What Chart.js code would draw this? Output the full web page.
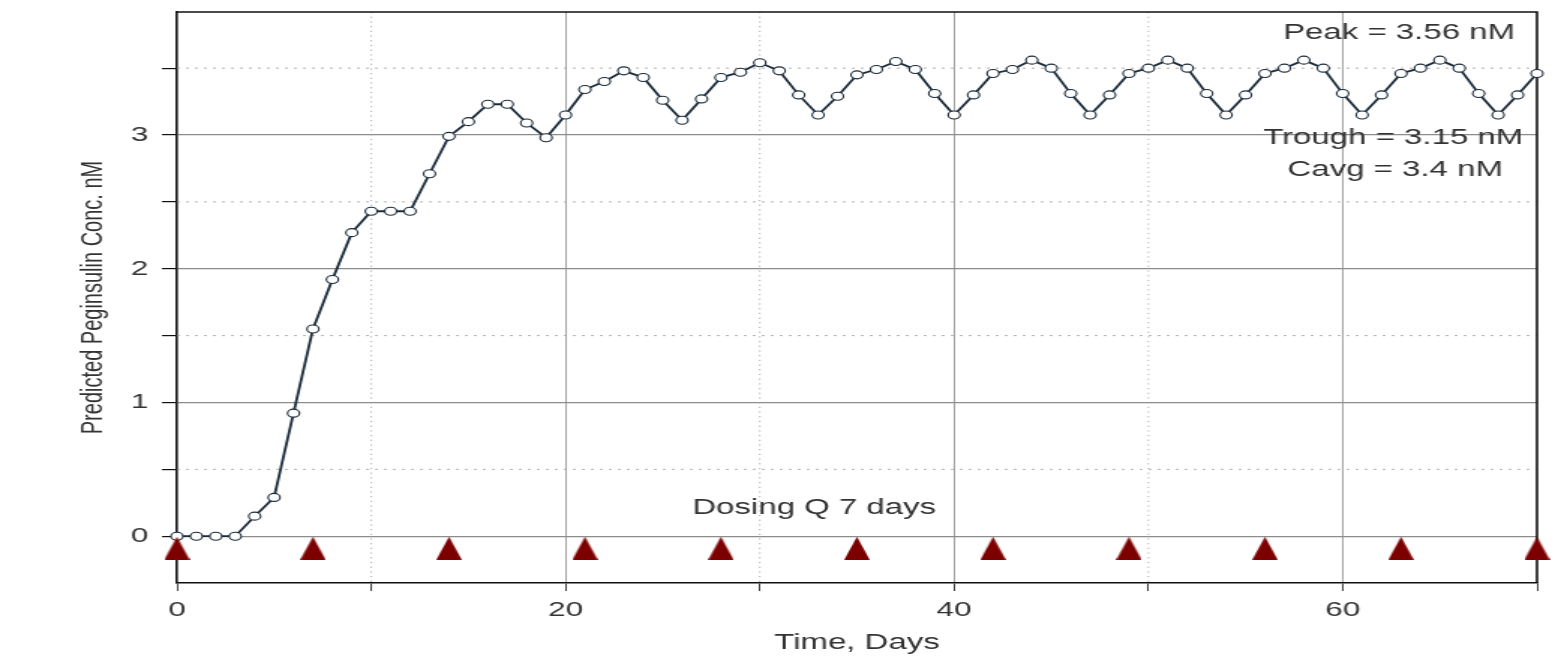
<!DOCTYPE html>
<html>
<head>
<meta charset="utf-8">
<title>Predicted Peginsulin Concentration</title>
<script src="https://cdn.jsdelivr.net/npm/chart.js@4"></script>
<style>
  html, body { margin: 0; padding: 0; background: #fff; overflow: hidden; }
  /* the source picture is stretched sideways, so draw narrow and widen it */
  #wrap { width: 1037px; height: 662px; transform: scaleX(1.4995); transform-origin: 0 0; }
</style>
</head>
<body>
<div id="wrap"><canvas id="pk-chart" width="1037" height="662"></canvas></div>
<script>
// ══════════════════════════════════════════
// DATA
// ══════════════════════════════════════════
const days = [
  0, 1, 2, 3, 4, 5, 6, 7, 8, 9, 10, 11, 12, 13, 14, 15, 16, 17, 18, 19,
  20, 21, 22, 23, 24, 25, 26, 27, 28, 29, 30, 31, 32, 33, 34, 35, 36, 37, 38, 39,
  40, 41, 42, 43, 44, 45, 46, 47, 48, 49, 50, 51, 52, 53, 54, 55, 56, 57, 58, 59,
  60, 61, 62, 63, 64, 65, 66, 67, 68, 69, 70
];
const concNM = [
  0, 0, 0, 0, 0.15, 0.29, 0.92, 1.55, 1.92, 2.27, 2.43, 2.43, 2.43, 2.71, 2.99, 3.10, 3.23, 3.23, 3.09, 2.98,
  3.15, 3.34, 3.40, 3.48, 3.43, 3.26, 3.11, 3.27, 3.43, 3.47, 3.54, 3.48, 3.30, 3.15, 3.29, 3.45, 3.49, 3.55, 3.49, 3.31,
  3.15, 3.30, 3.46, 3.49, 3.56, 3.50, 3.31, 3.15, 3.30, 3.46, 3.50, 3.56, 3.50, 3.31, 3.15, 3.30, 3.46, 3.50, 3.56, 3.50,
  3.31, 3.15, 3.30, 3.46, 3.50, 3.56, 3.50, 3.31, 3.15, 3.30, 3.46
];
const doseDays = [0, 7, 14, 21, 28, 35, 42, 49, 56, 63, 70];
const doseLevel = -0.09;

const xTicks = [0, 10, 20, 30, 40, 50, 60, 70];
const yTicks = [0, 0.5, 1, 1.5, 2, 2.5, 3, 3.5];
const xMinorGrid = [10, 30, 50];
const yMinorGrid = [0.5, 1.5, 2.5, 3.5];

const notes = [
  { text: 'Peak = 3.56 nM',    x: 62.9, y: 3.76 },
  { text: 'Trough = 3.15 nM',  x: 62.6, y: 2.98 },
  { text: 'Cavg = 3.4 nM',     x: 62.7, y: 2.74 },
  { text: 'Dosing Q 7 days',   x: 32.8, y: 0.21 },
];

// ══════════════════════════════════════════
// CHART
// ══════════════════════════════════════════
Chart.defaults.font.family = "'Liberation Sans', Arial, sans-serif";
Chart.defaults.color = '#333';

// dose marker: a plain dark red triangle, kept narrow because the page is widened
function makeDoseMarker() {
  const c = document.createElement('canvas');
  c.width = 17; c.height = 23;
  const g = c.getContext('2d');
  g.fillStyle = '#7d0000';
  g.beginPath();
  g.moveTo(0, 23); g.lineTo(8.5, 0); g.lineTo(17, 23);
  g.closePath();
  g.fill();
  return c;
}

// ── dotted minor grid + closed frame ──
const frameAndMinorGrid = {
  id: 'frameAndMinorGrid',
  beforeDatasetsDraw(chart) {
    const { ctx, chartArea: a, scales: { x, y } } = chart;
    ctx.save();
    ctx.strokeStyle = '#9a9a9a';
    ctx.lineWidth = 0.8;
    ctx.setLineDash([1.2, 3.5]);
    xMinorGrid.forEach(v => {
      const px = x.getPixelForValue(v);
      ctx.beginPath(); ctx.moveTo(px, a.top); ctx.lineTo(px, a.bottom); ctx.stroke();
    });
    ctx.setLineDash([2, 4]);
    yMinorGrid.forEach(v => {
      const py = y.getPixelForValue(v);
      ctx.beginPath(); ctx.moveTo(a.left, py); ctx.lineTo(a.right, py); ctx.stroke();
    });
    ctx.setLineDash([]);
    ctx.strokeStyle = '#111';
    ctx.lineWidth = 1.6;
    ctx.beginPath();
    ctx.moveTo(a.left, a.top); ctx.lineTo(a.right, a.top); ctx.lineTo(a.right, a.bottom);
    ctx.stroke();
    ctx.restore();
  }
};

// ── text notes placed in data units ──
const noteLabels = {
  id: 'noteLabels',
  afterDatasetsDraw(chart) {
    const { ctx, scales: { x, y } } = chart;
    ctx.save();
    ctx.font = "22px 'Liberation Sans', Arial, sans-serif";
    ctx.fillStyle = '#333';
    ctx.textAlign = 'center';
    ctx.textBaseline = 'middle';
    notes.forEach(n => ctx.fillText(n.text, x.getPixelForValue(n.x), y.getPixelForValue(n.y)));
    ctx.restore();
  }
};

new Chart(document.getElementById('pk-chart'), {
  type: 'line',
  data: {
    datasets: [
      {
        data: days.map((d, i) => ({ x: d, y: concNM[i] })),
        borderColor: '#1b2b3a',
        borderWidth: 1.8,
        pointRadius: 4,
        pointBorderWidth: 1.1,
        pointBorderColor: '#1b2b3a',
        pointBackgroundColor: '#fff',
        tension: 0,
        clip: false,
        order: 2,
      },
      {
        data: doseDays.map(d => ({ x: d, y: doseLevel })),
        showLine: false,
        pointStyle: makeDoseMarker(),
        pointRadius: 10,
        clip: false,
        order: 1,
      }
    ]
  },
  options: {
    responsive: false,
    animation: false,
    devicePixelRatio: 1,
    layout: { padding: { left: 0, top: 12, right: 12, bottom: 0 } },
    plugins: { legend: { display: false }, tooltip: { enabled: false } },
    scales: {
      x: {
        type: 'linear',
        min: 0, max: 70,
        afterBuildTicks: axis => { axis.ticks = xTicks.map(v => ({ value: v })); },
        afterFit: axis => { axis.height = 79; axis.paddingLeft = 0; axis.paddingRight = 0; },
        ticks: {
          autoSkip: false, maxRotation: 0, padding: 7,
          font: { size: 21 }, color: '#333',
          callback: v => (v % 20 === 0 ? String(v) : ''),
        },
        grid: {
          color: c => (c.tick && c.tick.value % 20 === 0 && c.tick.value > 0 && c.tick.value < 70) ? '#8c8c8c' : 'rgba(0,0,0,0)',
          tickColor: '#111',
          tickLength: 8,
          lineWidth: 0.8,
        },
        border: { display: true, color: '#111', width: 1.6 },
        title: {
          display: true, text: 'Time, Days',
          font: { size: 22 }, color: '#333',
          padding: { top: 0, bottom: 6 },
        },
      },
      y: {
        min: -0.35, max: 3.92,
        afterBuildTicks: axis => { axis.ticks = yTicks.map(v => ({ value: v })); },
        afterFit: axis => { axis.width = 118; axis.paddingTop = 0; axis.paddingBottom = 0; },
        ticks: {
          autoSkip: false, padding: 9,
          font: { size: 21 }, color: '#333',
          callback: v => (Number.isInteger(v) ? String(v) : ''),
        },
        grid: {
          color: c => (c.tick && Number.isInteger(c.tick.value)) ? '#8c8c8c' : 'rgba(0,0,0,0)',
          tickColor: '#111',
          tickLength: 10,
          lineWidth: 1.2,
        },
        border: { display: true, color: '#111', width: 1.6 },
        title: {
          display: true, text: 'Predicted Peginsulin Conc. nM',
          font: { size: 20 }, color: '#333',
          padding: { top: 50, bottom: 0 },
        },
      }
    }
  },
  plugins: [frameAndMinorGrid, noteLabels]
});
</script>
</body>
</html>
